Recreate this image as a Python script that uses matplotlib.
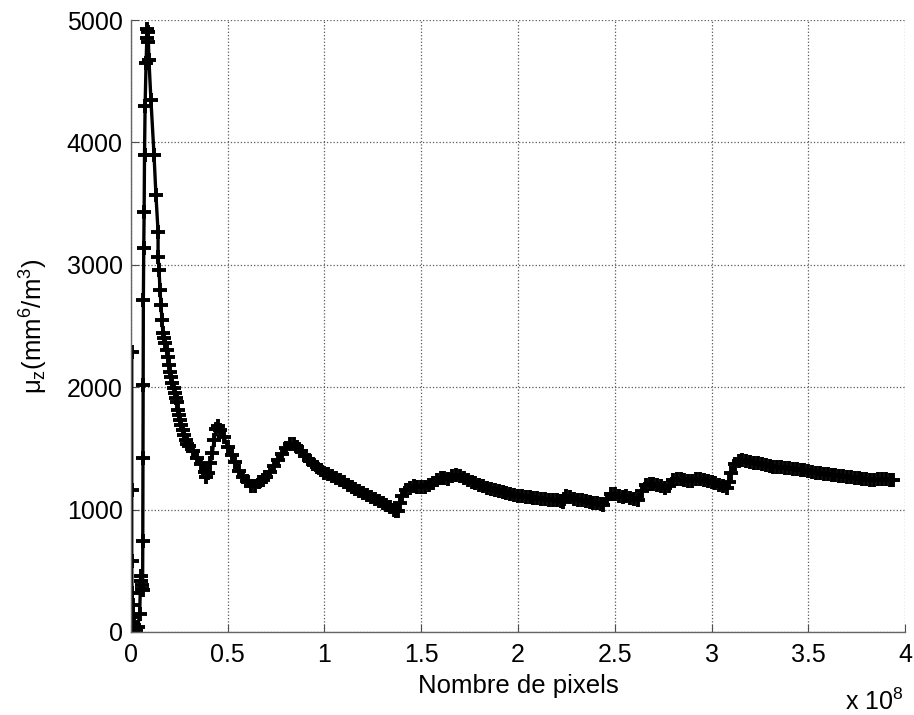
# Convergence of mu_z with the number of pixels

import numpy as np
import matplotlib.pyplot as plt

plt.rcParams['font.family'] = ['Liberation Sans', 'DejaVu Sans']
plt.rcParams['mathtext.fontset'] = 'custom'
plt.rcParams['mathtext.rm'] = 'Liberation Sans'
plt.rcParams['mathtext.it'] = 'Liberation Sans'

# Number of pixels (x 1e8)
pixels_e8 = [
    0.004, 0.004, 0.004, 0.005, 0.008, 0.010, 0.014, 0.020, 0.028, 0.035,
    0.045, 0.050, 0.053, 0.056, 0.058, 0.060, 0.061, 0.062, 0.063, 0.064,
    0.066, 0.068, 0.070, 0.073, 0.078, 0.082, 0.085, 0.088, 0.090, 0.093,
    0.103, 0.119, 0.129, 0.140, 0.140, 0.145, 0.150, 0.155, 0.160, 0.165,
    0.170, 0.176, 0.184, 0.191, 0.197, 0.202, 0.207, 0.212, 0.220, 0.227,
    0.233, 0.238, 0.243, 0.248, 0.253, 0.261, 0.269, 0.276, 0.284, 0.292,
    0.300, 0.32, 0.34, 0.36, 0.38, 0.39, 0.40, 0.41, 0.42, 0.43,
    0.44, 0.45, 0.46, 0.48, 0.50, 0.52, 0.54, 0.56, 0.58, 0.60,
    0.62, 0.64, 0.66, 0.68, 0.70, 0.72, 0.74, 0.76, 0.78, 0.80,
    0.82, 0.84, 0.86, 0.88, 0.90, 0.92, 0.94, 0.96, 0.98, 1.00,
    1.02, 1.04, 1.06, 1.08, 1.10, 1.12, 1.14, 1.16, 1.18, 1.20,
    1.22, 1.24, 1.26, 1.28, 1.30, 1.32, 1.34, 1.36, 1.37, 1.38,
    1.39, 1.40, 1.42, 1.44, 1.46, 1.48, 1.50, 1.52, 1.54, 1.56,
    1.58, 1.60, 1.62, 1.64, 1.66, 1.68, 1.70, 1.72, 1.74, 1.76,
    1.78, 1.80, 1.82, 1.84, 1.86, 1.88, 1.90, 1.92, 1.94, 1.96,
    1.98, 2.00, 2.02, 2.04, 2.06, 2.08, 2.10, 2.12, 2.14, 2.16,
    2.18, 2.20, 2.22, 2.23, 2.24, 2.25, 2.27, 2.29, 2.31, 2.33,
    2.35, 2.37, 2.39, 2.41, 2.43, 2.44, 2.46, 2.48, 2.50, 2.52,
    2.54, 2.56, 2.58, 2.60, 2.62, 2.64, 2.66, 2.68, 2.70, 2.72,
    2.74, 2.76, 2.78, 2.80, 2.82, 2.84, 2.86, 2.88, 2.90, 2.92,
    2.94, 2.96, 2.98, 3.00, 3.02, 3.04, 3.06, 3.08, 3.09, 3.10,
    3.12, 3.14, 3.16, 3.18, 3.20, 3.22, 3.24, 3.26, 3.28, 3.30,
    3.32, 3.34, 3.36, 3.38, 3.40, 3.42, 3.44, 3.46, 3.48, 3.50,
    3.52, 3.54, 3.56, 3.58, 3.60, 3.62, 3.64, 3.66, 3.68, 3.70,
    3.72, 3.74, 3.76, 3.78, 3.80, 3.82, 3.84, 3.86, 3.88, 3.90,
    3.92, 3.94,
]

# mu_z (mm^6/m^3)
mu_z = [
    2290, 1160, 580, 320, 220, 120, 60, 30, 20, 40,
    150, 460, 420, 380, 350, 340, 740, 1420, 2020, 2710,
    3140, 3430, 3900, 4300, 4650, 4850, 4930, 4900, 4820, 4670,
    4350, 3900, 3570, 3270, 3060, 2960, 2795, 2670, 2550, 2445,
    2400, 2360, 2300, 2245, 2180, 2125, 2080, 2035, 1990, 1955,
    1915, 1880, 1815, 1770, 1730, 1690, 1650, 1610, 1570, 1540,
    1520, 1475, 1425, 1375, 1310, 1270, 1300, 1380, 1460, 1570,
    1660, 1680, 1650, 1590, 1515, 1445, 1385, 1315, 1270, 1230,
    1195, 1195, 1222, 1238, 1270, 1310, 1355, 1405, 1458, 1505,
    1535, 1540, 1515, 1478, 1440, 1405, 1375, 1348, 1320, 1302,
    1288, 1275, 1262, 1245, 1228, 1205, 1186, 1168, 1150, 1133,
    1118, 1100, 1084, 1068, 1052, 1036, 1018, 998, 985, 990,
    1050, 1110, 1158, 1180, 1190, 1188, 1185, 1186, 1198, 1215,
    1240, 1262, 1262, 1250, 1272, 1282, 1275, 1260, 1242, 1228,
    1215, 1203, 1190, 1178, 1166, 1158, 1150, 1141, 1134, 1128,
    1120, 1113, 1108, 1104, 1101, 1097, 1093, 1089, 1085, 1081,
    1078, 1077, 1070, 1062, 1090, 1112, 1102, 1090, 1080, 1075,
    1068, 1062, 1056, 1050, 1042, 1038, 1085, 1125, 1124, 1114,
    1104, 1110, 1098, 1090, 1082, 1150, 1200, 1212, 1210, 1202,
    1190, 1175, 1190, 1240, 1252, 1250, 1243, 1230, 1236, 1250,
    1250, 1240, 1232, 1222, 1214, 1202, 1190, 1178, 1225, 1300,
    1375, 1398, 1405, 1400, 1392, 1384, 1377, 1372, 1365, 1357,
    1352, 1348, 1344, 1341, 1337, 1333, 1329, 1325, 1321, 1316,
    1310, 1302, 1297, 1293, 1289, 1285, 1281, 1277, 1273, 1269,
    1265, 1261, 1257, 1253, 1249, 1243, 1242, 1248, 1250, 1248,
    1243, 1242,
]

xticks = [0, 0.5, 1, 1.5, 2, 2.5, 3, 3.5, 4]
xticklabels = ['0', '0.5', '1', '1.5', '2', '2.5', '3', '3.5', '4']
yticks = [0, 1000, 2000, 3000, 4000, 5000]

fig = plt.figure(figsize=(9.14, 7.15), dpi=100)
ax = fig.add_axes([0.1433, 0.1161, 0.8469, 0.8559])

ax.plot(pixels_e8, mu_z, color='black', lw=2.4, marker='+', ms=9.5, mew=2.8)

ax.set_xlim(0, 4)
ax.set_ylim(0, 5000)
ax.set_xticks(xticks)
ax.set_xticklabels(xticklabels)
ax.set_yticks(yticks)
ax.tick_params(direction='in', length=6, labelsize=18, color='0.3')
ax.tick_params(axis='x', pad=8)
ax.tick_params(axis='y', pad=6)
ax.grid(True, linestyle=':', color='0.35', linewidth=0.9)

for side in ['top', 'right']:
    ax.spines[side].set_visible(False)
for side in ['left', 'bottom']:
    ax.spines[side].set_color('0.4')
    ax.spines[side].set_linewidth(1.0)

ax.set_xlabel('Nombre de pixels', fontsize=18.5, labelpad=5)
ax.set_ylabel(r'$\mu_z$(mm$^6$/m$^3$)', fontsize=18.5, labelpad=12)

fig.text(845 / 914, 1 - 710 / 715, r'x 10$^8$', fontsize=18, va='baseline', ha='left')

fig.savefig('out.png', dpi=100)
